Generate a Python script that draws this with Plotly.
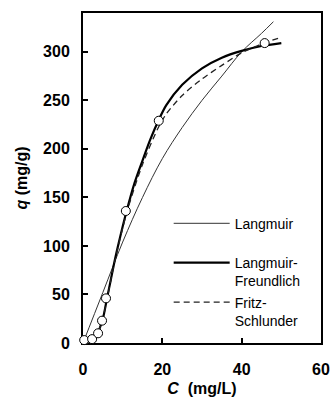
import plotly.graph_objects as go

# Experimental data (open circles)
c_exp = [0.3, 2.3, 3.8, 4.8, 5.8, 10.8, 19.1, 45.8]
q_exp = [3, 4, 10, 23, 46, 136, 229, 309]

# Langmuir fit (thin line)
c_lang = [0, 5, 10, 15, 20, 25, 30, 35, 40, 45, 48]
q_lang = [0, 52, 104, 150, 190, 222, 250, 275, 300, 319, 331]

# Langmuir-Freundlich fit (thick line)
c_lf = [0, 2, 3.5, 5, 6, 7, 8, 9, 11, 13, 15, 17, 19, 21, 25, 30, 35, 40, 45, 50]
q_lf = [0, 3, 9, 25, 45, 65, 85, 103, 136, 165, 188, 210, 229, 245, 266, 283, 294, 301, 306, 309]

# Fritz-Schlunder fit (dashed line)
c_fs = [0, 2, 3.5, 5, 6, 8, 11, 15, 19, 21, 25, 30, 35, 40, 45, 50]
q_fs = [0, 3, 9, 25, 44, 84, 134, 184, 222, 236, 255, 272, 286, 299, 308, 315]

x_ticks = [0, 20, 40, 60]
y_ticks = [0, 50, 100, 150, 200, 250, 300]

FONT = "Liberation Sans, Arial, sans-serif"

fig = go.Figure()
fig.add_trace(go.Scatter(x=c_lang, y=q_lang, mode="lines", name="Langmuir<br>\u00a0",
                         line=dict(color="#333333", width=1, shape="spline")))
fig.add_trace(go.Scatter(x=c_lf, y=q_lf, mode="lines", name="Langmuir-<br>Freundlich",
                         line=dict(color="black", width=2.2, shape="spline", smoothing=0.8)))
fig.add_trace(go.Scatter(x=c_fs, y=q_fs, mode="lines", name="Fritz-<br>Schlunder",
                         line=dict(color="#222222", width=1.3, dash="6px,4px", shape="spline", smoothing=0.8)))
fig.add_trace(go.Scatter(x=c_exp, y=q_exp, mode="markers", showlegend=False, cliponaxis=False,
                         marker=dict(symbol="circle", size=9, color="white",
                                     line=dict(color="black", width=1))))

fig.update_layout(
    width=332, height=405,
    margin=dict(l=83, r=11, t=13, b=62, autoexpand=False),
    paper_bgcolor="white", plot_bgcolor="white",
    font=dict(family=FONT, color="black"),
    legend=dict(x=0.36, y=0.41, xanchor="left", yanchor="top",
                bgcolor="rgba(0,0,0,0)", font=dict(size=14, family=FONT),
                valign="top", itemwidth=56, tracegroupgap=0),
)
fig.update_xaxes(range=[0, 60], tickvals=x_ticks, ticks="inside", ticklen=5, tickwidth=1.5,
                 tickcolor="black", showline=True, linecolor="black", linewidth=2, mirror=True,
                 showgrid=False, zeroline=False, layer="below traces", automargin=False,
                 ticklabelstandoff=11,
                 tickfont=dict(size=16, family=FONT, weight="bold"),
                 title=dict(text="<i>C</i>\u00a0 (mg/L)", font=dict(size=16, family=FONT, weight="bold"),
                            standoff=6))
fig.update_yaxes(range=[0, 340], tickvals=y_ticks, ticks="inside", ticklen=5, tickwidth=1.5,
                 tickcolor="black", showline=True, linecolor="black", linewidth=2, mirror=True,
                 showgrid=False, zeroline=False, layer="below traces", automargin=False,
                 ticklabelstandoff=8,
                 tickfont=dict(size=16, family=FONT, weight="bold"),
                 title=dict(text="<i>q</i> (mg/g)", font=dict(size=16, family=FONT, weight="bold"),
                            standoff=11))

fig.write_html("out.html")
